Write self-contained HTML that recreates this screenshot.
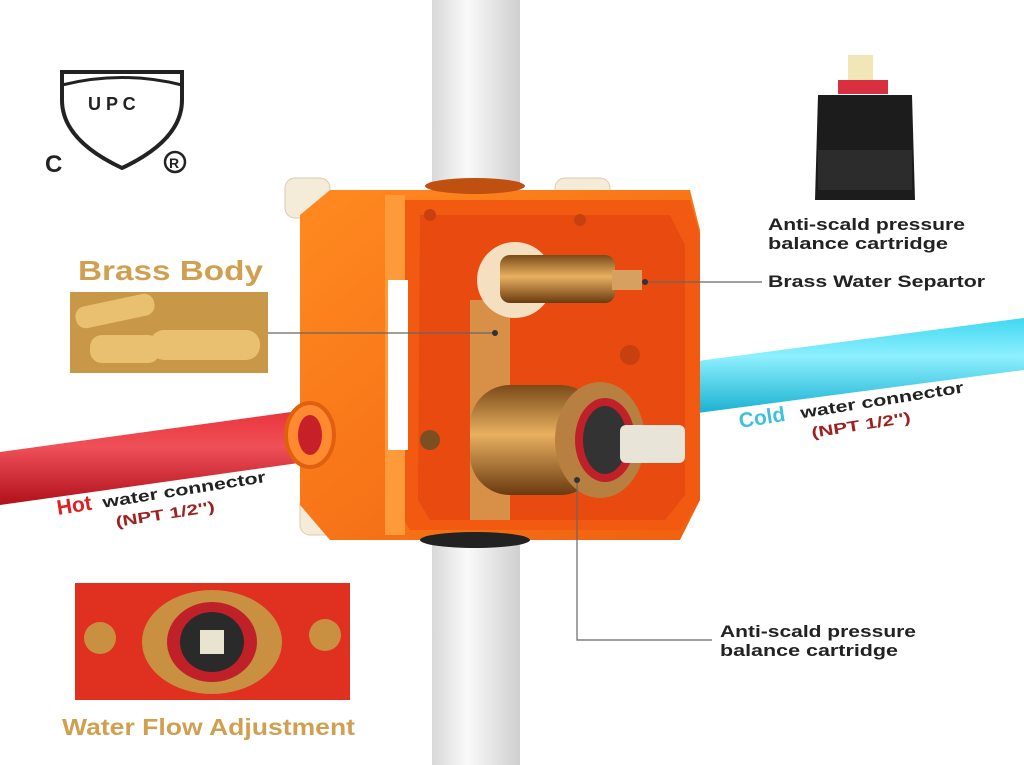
<!DOCTYPE html>
<html><head><meta charset="utf-8"><style>
html,body{margin:0;padding:0;background:#fff;width:1024px;height:765px;overflow:hidden}
svg{display:block}
text{font-family:"Liberation Sans",sans-serif;font-weight:bold}
</style></head><body>
<svg width="1024" height="765" viewBox="0 0 1024 765">
<defs>
<linearGradient id="pipe" x1="0" x2="1"><stop offset="0" stop-color="#d8d8d8"/><stop offset="0.4" stop-color="#fafafa"/><stop offset="1" stop-color="#cfcfcf"/></linearGradient>
<linearGradient id="red" x1="0" y1="0" x2="0" y2="1"><stop offset="0" stop-color="#e8323a"/><stop offset="0.4" stop-color="#f05058"/><stop offset="1" stop-color="#b0101a"/></linearGradient>
<linearGradient id="cyan" x1="0" y1="0" x2="0" y2="1"><stop offset="0" stop-color="#40d8f0"/><stop offset="0.4" stop-color="#8ef0ff"/><stop offset="1" stop-color="#18b0d0"/></linearGradient>
<linearGradient id="brass" x1="0" y1="0" x2="0" y2="1"><stop offset="0" stop-color="#7a4a18"/><stop offset="0.45" stop-color="#e8b060"/><stop offset="1" stop-color="#6a3a10"/></linearGradient>
<linearGradient id="org" x1="0" y1="0" x2="1" y2="1"><stop offset="0" stop-color="#ff8a20"/><stop offset="1" stop-color="#f06010"/></linearGradient>
</defs>
<rect x="432" y="0" width="88" height="765" fill="url(#pipe)"/>
<polygon points="690,362 1024,318 1024,370 690,414" fill="url(#cyan)"/>
<polygon points="0,452 320,408 320,460 0,505" fill="url(#red)"/>
<g fill="#f4ecd8" stroke="#d8ccb0">
<rect x="285" y="178" width="45" height="40" rx="10"/>
<rect x="555" y="178" width="55" height="35" rx="10"/>
<rect x="300" y="495" width="45" height="40" rx="10"/>
<rect x="560" y="500" width="50" height="35" rx="10"/>
</g>
<polygon points="300,215 330,190 690,190 700,230 700,500 680,540 330,540 300,505" fill="url(#org)"/>
<polygon points="395,200 690,200 700,235 700,500 680,530 410,530 395,505" fill="#f25a12"/>
<polygon points="420,215 670,215 685,245 685,495 665,520 430,520 418,500" fill="#e84a10"/>
<rect x="385" y="195" width="20" height="340" fill="#ff9a3a"/>
<rect x="388" y="280" width="20" height="170" fill="#fff"/>
<ellipse cx="475" cy="540" rx="55" ry="8" fill="#222"/>
<ellipse cx="475" cy="186" rx="50" ry="8" fill="#c05010"/>
<ellipse cx="310" cy="435" rx="24" ry="32" fill="#ff8a30" stroke="#e06010" stroke-width="4"/>
<ellipse cx="310" cy="435" rx="12" ry="20" fill="#c82028"/>
<rect x="470" y="300" width="40" height="220" fill="#d89048"/>
<circle cx="515" cy="280" r="38" fill="#f4e0c0"/>
<rect x="500" y="255" width="115" height="48" rx="10" fill="url(#brass)"/>
<rect x="612" y="270" width="30" height="20" fill="#d8a060"/>
<rect x="470" y="385" width="130" height="110" rx="40" fill="url(#brass)"/>
<ellipse cx="600" cy="440" rx="45" ry="58" fill="#b88040"/>
<ellipse cx="605" cy="440" rx="30" ry="42" fill="#c02028"/>
<ellipse cx="605" cy="440" rx="22" ry="34" fill="#333"/>
<rect x="620" y="425" width="65" height="38" rx="6" fill="#e8e4d8"/>
<circle cx="430" cy="440" r="10" fill="#7a5020"/>
<circle cx="630" cy="355" r="10" fill="#c84010"/>
<circle cx="580" cy="220" r="6" fill="#c84010"/>
<circle cx="430" cy="215" r="6" fill="#c84010"/>
<g stroke="#666" stroke-width="1.2" fill="none">
<line x1="645" y1="282" x2="762" y2="282"/>
<line x1="268" y1="333" x2="495" y2="333"/>
<polyline points="577,480 577,640 712,640"/>
</g>
<circle cx="645" cy="282" r="3" fill="#333"/>
<circle cx="495" cy="333" r="3" fill="#333"/>
<circle cx="577" cy="480" r="3" fill="#333"/>
<path d="M62,72 L182,72 L182,100 Q182,140 122,168 Q62,140 62,100 Z" fill="none" stroke="#222" stroke-width="4"/>
<path d="M62,85 Q122,70 182,85" fill="none" stroke="#222" stroke-width="3"/>
<text x="88" y="110" font-size="18" fill="#222" font-weight="normal">U P C</text>
<text x="45" y="172" font-size="24" fill="#222">C</text>
<circle cx="175" cy="162" r="10" fill="none" stroke="#222" stroke-width="2.5"/>
<text x="169" y="168" font-size="14" fill="#222">R</text>
<rect x="848" y="55" width="25" height="28" fill="#f0e6b8"/>
<rect x="838" y="80" width="50" height="14" fill="#d83040"/>
<path d="M818,95 L912,95 L915,200 L815,200 Z" fill="#1c1c1c"/>
<rect x="818" y="150" width="94" height="40" fill="#2c2c2c"/>
<text x="768" y="230" font-size="17" fill="#222" textLength="197" lengthAdjust="spacingAndGlyphs">Anti-scald pressure</text>
<text x="768" y="249" font-size="17" fill="#222" textLength="180" lengthAdjust="spacingAndGlyphs">balance cartridge</text>
<text x="768" y="287" font-size="17" fill="#222" textLength="217" lengthAdjust="spacingAndGlyphs">Brass Water Separtor</text>
<text x="720" y="637" font-size="17" fill="#222" textLength="196" lengthAdjust="spacingAndGlyphs">Anti-scald pressure</text>
<text x="720" y="656" font-size="17" fill="#222" textLength="178" lengthAdjust="spacingAndGlyphs">balance cartridge</text>
<text x="78" y="280" font-size="28" fill="#d0a050" textLength="185" lengthAdjust="spacingAndGlyphs">Brass Body</text>
<rect x="70" y="292" width="198" height="81" fill="#c89848"/>
<g fill="#e8c070"><rect x="75" y="300" width="80" height="22" rx="10" transform="rotate(-12 115 311)"/><rect x="150" y="330" width="110" height="30" rx="14"/><rect x="90" y="335" width="70" height="28" rx="12"/></g>
<g transform="rotate(-9 58 515)">
<text x="58" y="515" font-size="21" fill="#e02020">Hot</text>
<text x="104" y="515" font-size="16" fill="#222" font-weight="normal" textLength="165" lengthAdjust="spacingAndGlyphs">water connector</text>
<text x="114" y="536" font-size="15" fill="#a02020" font-weight="normal" textLength="100" lengthAdjust="spacingAndGlyphs">(NPT 1/2'')</text>
</g>
<g transform="rotate(-9 740 428)">
<text x="740" y="428" font-size="21" fill="#40c0e0">Cold</text>
<text x="802" y="428" font-size="16" fill="#222" font-weight="normal" textLength="165" lengthAdjust="spacingAndGlyphs">water connector</text>
<text x="810" y="449" font-size="15" fill="#a02020" font-weight="normal" textLength="100" lengthAdjust="spacingAndGlyphs">(NPT 1/2'')</text>
</g>
<rect x="75" y="583" width="275" height="117" fill="#e03020"/>
<ellipse cx="212" cy="642" rx="70" ry="52" fill="#c89040"/>
<ellipse cx="212" cy="642" rx="45" ry="40" fill="#c02028"/>
<ellipse cx="212" cy="642" rx="32" ry="30" fill="#2a2a2a"/>
<rect x="200" y="630" width="24" height="24" fill="#e8e4d0"/>
<circle cx="100" cy="638" r="16" fill="#c89040"/>
<circle cx="325" cy="635" r="16" fill="#c89040"/>
<text x="62" y="735" font-size="23" fill="#d0a050" textLength="293" lengthAdjust="spacingAndGlyphs">Water Flow Adjustment</text>
</svg>
</body></html>
